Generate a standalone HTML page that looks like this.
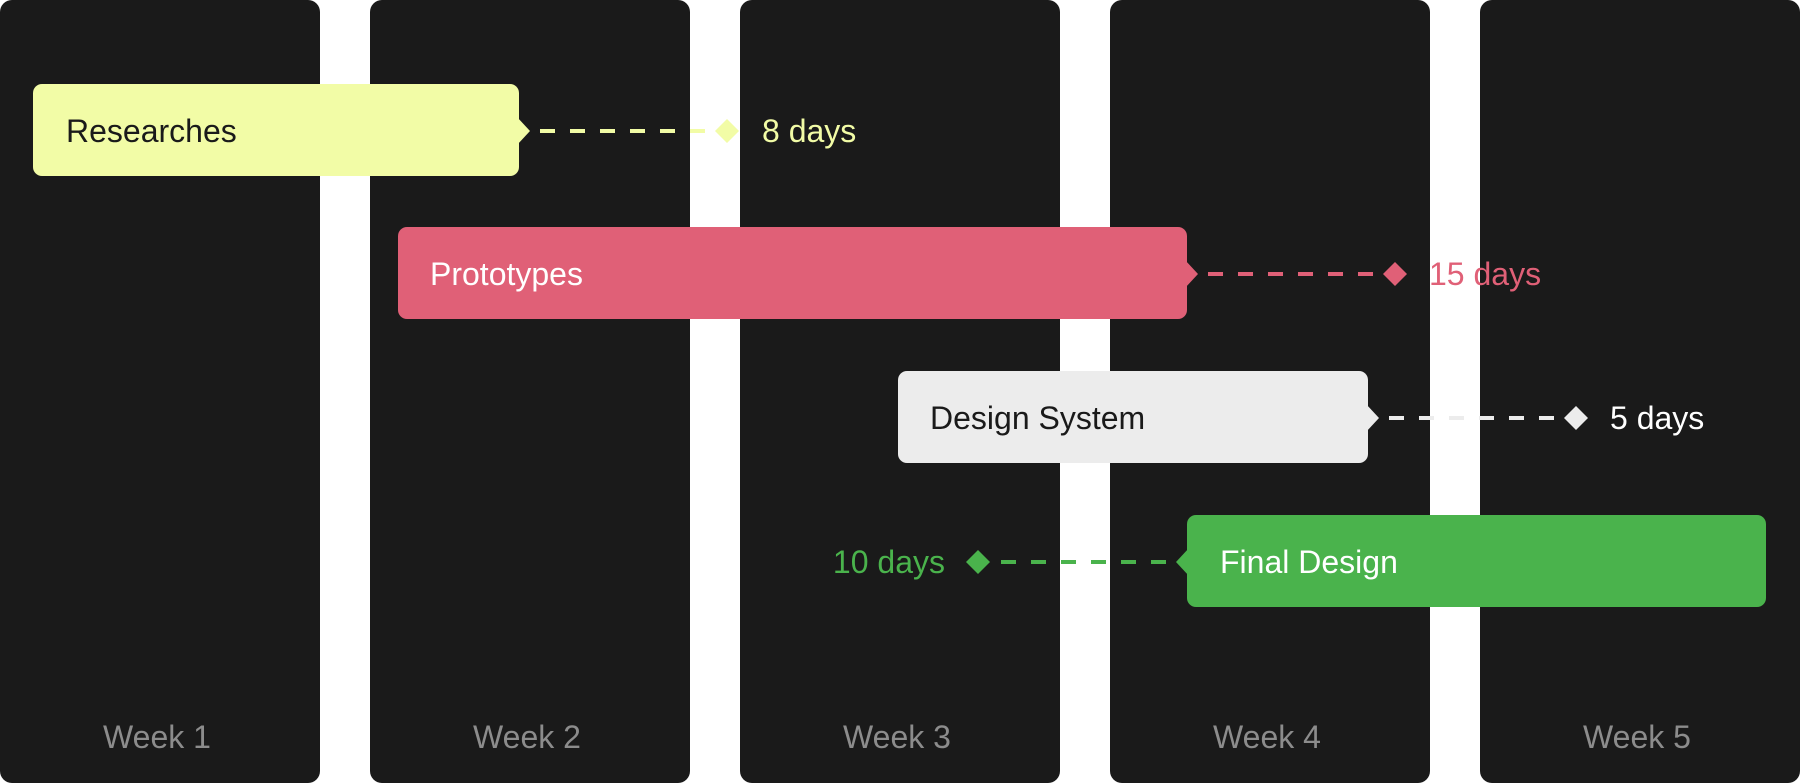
<!DOCTYPE html>
<html><head><meta charset="utf-8"><style>
html,body{margin:0;padding:0;background:#fff;width:1800px;height:784px;overflow:hidden}
svg{display:block}
text{font-family:"Liberation Sans",sans-serif}
</style></head><body>
<svg width="1800" height="784" viewBox="0 0 1800 784">
<g fill="#1a1a1a">
<rect x="0" y="0" width="320" height="783" rx="12"/>
<rect x="370" y="0" width="320" height="783" rx="12"/>
<rect x="740" y="0" width="320" height="783" rx="12"/>
<rect x="1110" y="0" width="320" height="783" rx="12"/>
<rect x="1480" y="0" width="320" height="783" rx="12"/>
</g>
<g fill="#8c8c8c" font-size="32" text-anchor="middle">
<text x="157" y="748">Week 1</text>
<text x="527" y="748">Week 2</text>
<text x="897" y="748">Week 3</text>
<text x="1267" y="748">Week 4</text>
<text x="1637" y="748">Week 5</text>
</g>
<!-- Researches -->
<g fill="#f2fca6">
<rect x="33" y="84" width="486" height="92" rx="9"/>
<polygon points="517,117 530,131 517,145"/>
<polygon points="727,119 739,131 727,143 715,131"/>
<text x="762" y="142" font-size="32">8 days</text>
</g>
<line x1="540" y1="131" x2="715" y2="131" stroke="#f2fca6" stroke-width="4" stroke-dasharray="15 15"/>
<text x="66" y="142" font-size="32" fill="#1a1a1a">Researches</text>
<!-- Prototypes -->
<g fill="#e06077">
<rect x="398" y="227" width="789" height="92" rx="9"/>
<polygon points="1185,260 1198,274 1185,288"/>
<polygon points="1395,262 1407,274 1395,286 1383,274"/>
<text x="1429" y="285" font-size="32">15 days</text>
</g>
<line x1="1208" y1="274" x2="1383" y2="274" stroke="#e06077" stroke-width="4" stroke-dasharray="15 15"/>
<text x="430" y="285" font-size="32" fill="#fff">Prototypes</text>
<!-- Design System -->
<g fill="#ececec">
<rect x="898" y="371" width="470" height="92" rx="9"/>
<polygon points="1366,404 1379,418 1366,432"/>
<polygon points="1576,406 1588,418 1576,430 1564,418"/>
<text x="1610" y="429" font-size="32" fill="#fff">5 days</text>
</g>
<line x1="1389" y1="418" x2="1564" y2="418" stroke="#ececec" stroke-width="4" stroke-dasharray="15 15"/>
<text x="930" y="429" font-size="32" fill="#1a1a1a">Design System</text>
<!-- Final Design -->
<g fill="#4ab34c">
<rect x="1187" y="515" width="579" height="92" rx="9"/>
<polygon points="1189,548 1176,562 1189,576"/>
<polygon points="978,550 990,562 978,574 966,562"/>
<text x="945" y="573" font-size="32" text-anchor="end">10 days</text>
</g>
<line x1="1166" y1="562" x2="990" y2="562" stroke="#4ab34c" stroke-width="4" stroke-dasharray="15 15"/>
<text x="1220" y="573" font-size="32" fill="#fff">Final Design</text>
</svg>
</body></html>
